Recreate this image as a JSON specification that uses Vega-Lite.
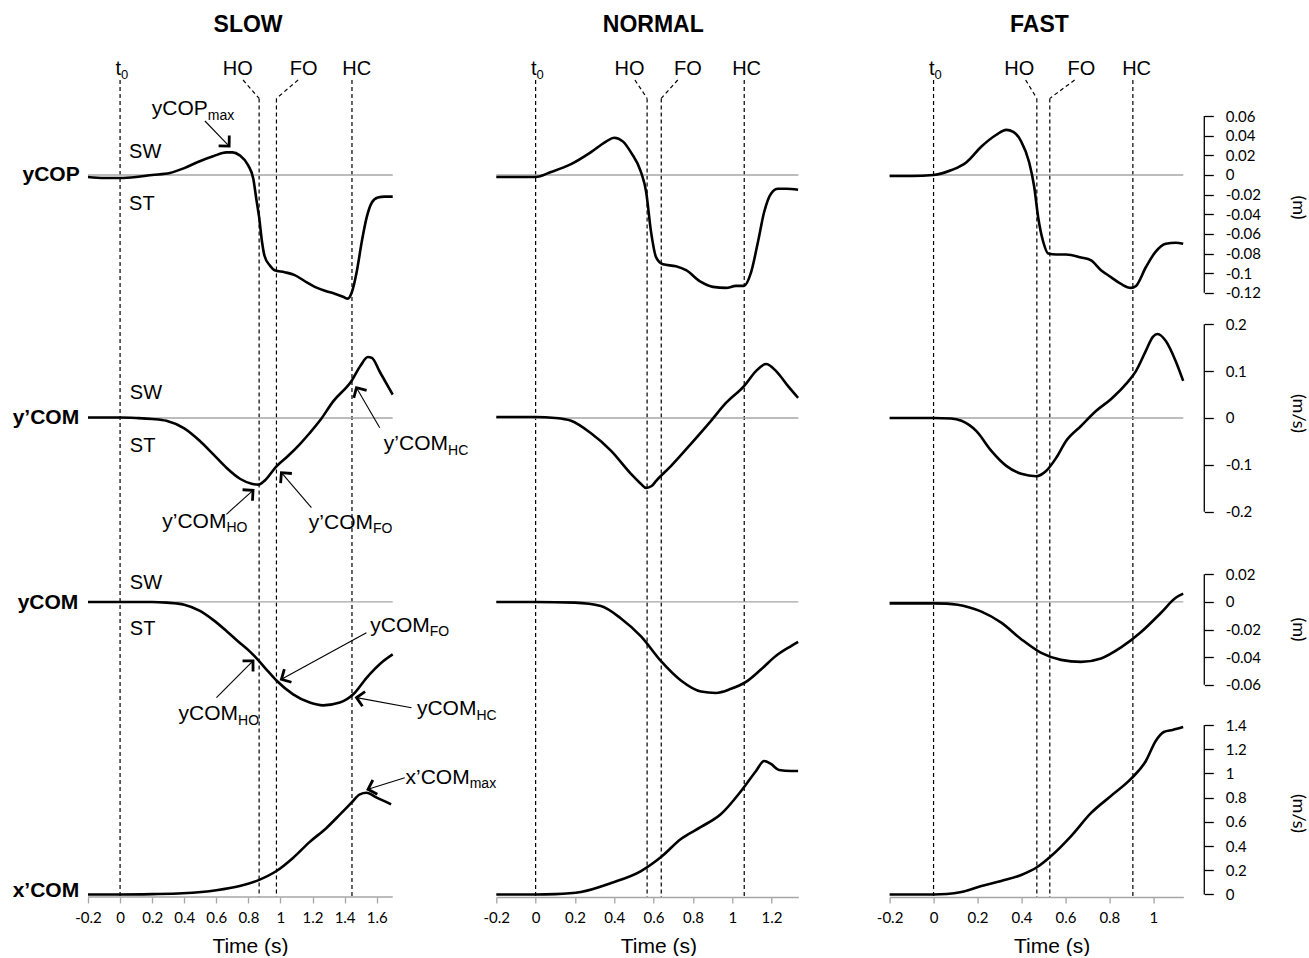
{
"$schema":"https://vega.github.io/schema/vega-lite/v6.json",
"background":"white",
"padding":{"left":12,"top":14,"right":5,"bottom":0},
"config":{"view":{"stroke":null},
 "title":{"font":"Liberation Sans","fontSize":23,"fontWeight":"bold","offset":14,"anchor":"middle","frame":"group","color":"black"},
 "line":{"color":"black","strokeWidth":2.6,"interpolate":"monotone"},
 "axisX":{"domainColor":"#a6a6a6","domainWidth":1.3,"tickColor":"#a6a6a6","tickWidth":1.3,"tickSize":6,"labelFont":"Lato","labelFontSize":15,"labelColor":"black","labelPadding":7,"titleFont":"Liberation Sans","titleFontSize":21,"titleFontWeight":"normal","titleColor":"black","titleX":162,"titleY":55,"titleBaseline":"alphabetic","grid":false,"labelFlush":false,"labelOverlap":false}
},
"datasets":{
"traces":[
{"speed":"SLOW","sig":"yCOP","t":-0.2,"v":-0.002},{"speed":"SLOW","sig":"yCOP","t":-0.1,"v":-0.003},{"speed":"SLOW","sig":"yCOP","t":0,"v":-0.003},{"speed":"SLOW","sig":"yCOP","t":0.1,"v":-0.002},{"speed":"SLOW","sig":"yCOP","t":0.2,"v":0},{"speed":"SLOW","sig":"yCOP","t":0.31,"v":0.002},{"speed":"SLOW","sig":"yCOP","t":0.4,"v":0.007},{"speed":"SLOW","sig":"yCOP","t":0.497,"v":0.014},{"speed":"SLOW","sig":"yCOP","t":0.58,"v":0.019},{"speed":"SLOW","sig":"yCOP","t":0.663,"v":0.023},{"speed":"SLOW","sig":"yCOP","t":0.7,"v":0.023},{"speed":"SLOW","sig":"yCOP","t":0.746,"v":0.02},{"speed":"SLOW","sig":"yCOP","t":0.798,"v":0.01},{"speed":"SLOW","sig":"yCOP","t":0.831,"v":-0.004},{"speed":"SLOW","sig":"yCOP","t":0.85,"v":-0.025},{"speed":"SLOW","sig":"yCOP","t":0.867,"v":-0.043},{"speed":"SLOW","sig":"yCOP","t":0.885,"v":-0.068},{"speed":"SLOW","sig":"yCOP","t":0.9,"v":-0.082},{"speed":"SLOW","sig":"yCOP","t":0.933,"v":-0.092},{"speed":"SLOW","sig":"yCOP","t":0.964,"v":-0.097},{"speed":"SLOW","sig":"yCOP","t":1.026,"v":-0.099},{"speed":"SLOW","sig":"yCOP","t":1.089,"v":-0.102},{"speed":"SLOW","sig":"yCOP","t":1.15,"v":-0.108},{"speed":"SLOW","sig":"yCOP","t":1.214,"v":-0.114},{"speed":"SLOW","sig":"yCOP","t":1.277,"v":-0.118},{"speed":"SLOW","sig":"yCOP","t":1.339,"v":-0.121},{"speed":"SLOW","sig":"yCOP","t":1.39,"v":-0.124},{"speed":"SLOW","sig":"yCOP","t":1.42,"v":-0.126},{"speed":"SLOW","sig":"yCOP","t":1.446,"v":-0.119},{"speed":"SLOW","sig":"yCOP","t":1.475,"v":-0.099},{"speed":"SLOW","sig":"yCOP","t":1.507,"v":-0.068},{"speed":"SLOW","sig":"yCOP","t":1.538,"v":-0.043},{"speed":"SLOW","sig":"yCOP","t":1.57,"v":-0.028},{"speed":"SLOW","sig":"yCOP","t":1.607,"v":-0.023},{"speed":"SLOW","sig":"yCOP","t":1.65,"v":-0.022},{"speed":"SLOW","sig":"yCOP","t":1.7,"v":-0.022},
{"speed":"NORMAL","sig":"yCOP","t":-0.2,"v":-0.002},{"speed":"NORMAL","sig":"yCOP","t":-0.1,"v":-0.002},{"speed":"NORMAL","sig":"yCOP","t":0,"v":-0.002},{"speed":"NORMAL","sig":"yCOP","t":0.078,"v":0.003},{"speed":"NORMAL","sig":"yCOP","t":0.18,"v":0.011},{"speed":"NORMAL","sig":"yCOP","t":0.28,"v":0.023},{"speed":"NORMAL","sig":"yCOP","t":0.358,"v":0.034},{"speed":"NORMAL","sig":"yCOP","t":0.399,"v":0.038},{"speed":"NORMAL","sig":"yCOP","t":0.445,"v":0.034},{"speed":"NORMAL","sig":"yCOP","t":0.485,"v":0.023},{"speed":"NORMAL","sig":"yCOP","t":0.536,"v":0.003},{"speed":"NORMAL","sig":"yCOP","t":0.562,"v":-0.017},{"speed":"NORMAL","sig":"yCOP","t":0.587,"v":-0.058},{"speed":"NORMAL","sig":"yCOP","t":0.613,"v":-0.084},{"speed":"NORMAL","sig":"yCOP","t":0.648,"v":-0.091},{"speed":"NORMAL","sig":"yCOP","t":0.714,"v":-0.093},{"speed":"NORMAL","sig":"yCOP","t":0.765,"v":-0.097},{"speed":"NORMAL","sig":"yCOP","t":0.841,"v":-0.109},{"speed":"NORMAL","sig":"yCOP","t":0.902,"v":-0.114},{"speed":"NORMAL","sig":"yCOP","t":0.968,"v":-0.115},{"speed":"NORMAL","sig":"yCOP","t":1.019,"v":-0.113},{"speed":"NORMAL","sig":"yCOP","t":1.06,"v":-0.113},{"speed":"NORMAL","sig":"yCOP","t":1.096,"v":-0.099},{"speed":"NORMAL","sig":"yCOP","t":1.131,"v":-0.068},{"speed":"NORMAL","sig":"yCOP","t":1.162,"v":-0.038},{"speed":"NORMAL","sig":"yCOP","t":1.197,"v":-0.019},{"speed":"NORMAL","sig":"yCOP","t":1.233,"v":-0.014},{"speed":"NORMAL","sig":"yCOP","t":1.274,"v":-0.014},{"speed":"NORMAL","sig":"yCOP","t":1.335,"v":-0.015},
{"speed":"FAST","sig":"yCOP","t":-0.2,"v":-0.001},{"speed":"FAST","sig":"yCOP","t":-0.1,"v":-0.001},{"speed":"FAST","sig":"yCOP","t":0,"v":0},{"speed":"FAST","sig":"yCOP","t":0.082,"v":0.005},{"speed":"FAST","sig":"yCOP","t":0.15,"v":0.013},{"speed":"FAST","sig":"yCOP","t":0.218,"v":0.029},{"speed":"FAST","sig":"yCOP","t":0.286,"v":0.041},{"speed":"FAST","sig":"yCOP","t":0.331,"v":0.046},{"speed":"FAST","sig":"yCOP","t":0.363,"v":0.044},{"speed":"FAST","sig":"yCOP","t":0.399,"v":0.034},{"speed":"FAST","sig":"yCOP","t":0.435,"v":0.013},{"speed":"FAST","sig":"yCOP","t":0.458,"v":-0.012},{"speed":"FAST","sig":"yCOP","t":0.476,"v":-0.043},{"speed":"FAST","sig":"yCOP","t":0.499,"v":-0.068},{"speed":"FAST","sig":"yCOP","t":0.522,"v":-0.08},{"speed":"FAST","sig":"yCOP","t":0.558,"v":-0.081},{"speed":"FAST","sig":"yCOP","t":0.603,"v":-0.081},{"speed":"FAST","sig":"yCOP","t":0.671,"v":-0.084},{"speed":"FAST","sig":"yCOP","t":0.717,"v":-0.087},{"speed":"FAST","sig":"yCOP","t":0.762,"v":-0.097},{"speed":"FAST","sig":"yCOP","t":0.807,"v":-0.104},{"speed":"FAST","sig":"yCOP","t":0.853,"v":-0.111},{"speed":"FAST","sig":"yCOP","t":0.898,"v":-0.115},{"speed":"FAST","sig":"yCOP","t":0.921,"v":-0.113},{"speed":"FAST","sig":"yCOP","t":0.966,"v":-0.094},{"speed":"FAST","sig":"yCOP","t":1.011,"v":-0.078},{"speed":"FAST","sig":"yCOP","t":1.057,"v":-0.07},{"speed":"FAST","sig":"yCOP","t":1.102,"v":-0.069},{"speed":"FAST","sig":"yCOP","t":1.136,"v":-0.07},
{"speed":"SLOW","sig":"yVel","t":-0.2,"v":0.001},{"speed":"SLOW","sig":"yVel","t":0,"v":0.001},{"speed":"SLOW","sig":"yVel","t":0.1,"v":0},{"speed":"SLOW","sig":"yVel","t":0.2,"v":-0.002},{"speed":"SLOW","sig":"yVel","t":0.289,"v":-0.006},{"speed":"SLOW","sig":"yVel","t":0.4,"v":-0.022},{"speed":"SLOW","sig":"yVel","t":0.498,"v":-0.049},{"speed":"SLOW","sig":"yVel","t":0.58,"v":-0.077},{"speed":"SLOW","sig":"yVel","t":0.663,"v":-0.106},{"speed":"SLOW","sig":"yVel","t":0.75,"v":-0.13},{"speed":"SLOW","sig":"yVel","t":0.82,"v":-0.14},{"speed":"SLOW","sig":"yVel","t":0.862,"v":-0.142},{"speed":"SLOW","sig":"yVel","t":0.9,"v":-0.134},{"speed":"SLOW","sig":"yVel","t":0.975,"v":-0.103},{"speed":"SLOW","sig":"yVel","t":1.05,"v":-0.08},{"speed":"SLOW","sig":"yVel","t":1.12,"v":-0.056},{"speed":"SLOW","sig":"yVel","t":1.18,"v":-0.033},{"speed":"SLOW","sig":"yVel","t":1.245,"v":-0.006},{"speed":"SLOW","sig":"yVel","t":1.33,"v":0.036},{"speed":"SLOW","sig":"yVel","t":1.443,"v":0.079},{"speed":"SLOW","sig":"yVel","t":1.5,"v":0.112},{"speed":"SLOW","sig":"yVel","t":1.545,"v":0.13},{"speed":"SLOW","sig":"yVel","t":1.57,"v":0.128},{"speed":"SLOW","sig":"yVel","t":1.62,"v":0.098},{"speed":"SLOW","sig":"yVel","t":1.7,"v":0.05},
{"speed":"NORMAL","sig":"yVel","t":-0.2,"v":0.002},{"speed":"NORMAL","sig":"yVel","t":0,"v":0.002},{"speed":"NORMAL","sig":"yVel","t":0.1,"v":0},{"speed":"NORMAL","sig":"yVel","t":0.18,"v":-0.006},{"speed":"NORMAL","sig":"yVel","t":0.28,"v":-0.032},{"speed":"NORMAL","sig":"yVel","t":0.384,"v":-0.07},{"speed":"NORMAL","sig":"yVel","t":0.485,"v":-0.119},{"speed":"NORMAL","sig":"yVel","t":0.535,"v":-0.14},{"speed":"NORMAL","sig":"yVel","t":0.562,"v":-0.149},{"speed":"NORMAL","sig":"yVel","t":0.59,"v":-0.145},{"speed":"NORMAL","sig":"yVel","t":0.613,"v":-0.134},{"speed":"NORMAL","sig":"yVel","t":0.689,"v":-0.102},{"speed":"NORMAL","sig":"yVel","t":0.79,"v":-0.055},{"speed":"NORMAL","sig":"yVel","t":0.892,"v":-0.006},{"speed":"NORMAL","sig":"yVel","t":0.968,"v":0.032},{"speed":"NORMAL","sig":"yVel","t":1.06,"v":0.068},{"speed":"NORMAL","sig":"yVel","t":1.121,"v":0.1},{"speed":"NORMAL","sig":"yVel","t":1.172,"v":0.115},{"speed":"NORMAL","sig":"yVel","t":1.223,"v":0.1},{"speed":"NORMAL","sig":"yVel","t":1.284,"v":0.068},{"speed":"NORMAL","sig":"yVel","t":1.335,"v":0.043},
{"speed":"FAST","sig":"yVel","t":-0.2,"v":0},{"speed":"FAST","sig":"yVel","t":0,"v":0},{"speed":"FAST","sig":"yVel","t":0.08,"v":-0.001},{"speed":"FAST","sig":"yVel","t":0.127,"v":-0.006},{"speed":"FAST","sig":"yVel","t":0.195,"v":-0.028},{"speed":"FAST","sig":"yVel","t":0.263,"v":-0.07},{"speed":"FAST","sig":"yVel","t":0.331,"v":-0.102},{"speed":"FAST","sig":"yVel","t":0.399,"v":-0.119},{"speed":"FAST","sig":"yVel","t":0.467,"v":-0.124},{"speed":"FAST","sig":"yVel","t":0.512,"v":-0.113},{"speed":"FAST","sig":"yVel","t":0.558,"v":-0.085},{"speed":"FAST","sig":"yVel","t":0.603,"v":-0.049},{"speed":"FAST","sig":"yVel","t":0.671,"v":-0.017},{"speed":"FAST","sig":"yVel","t":0.739,"v":0.015},{"speed":"FAST","sig":"yVel","t":0.807,"v":0.04},{"speed":"FAST","sig":"yVel","t":0.875,"v":0.072},{"speed":"FAST","sig":"yVel","t":0.921,"v":0.1},{"speed":"FAST","sig":"yVel","t":0.966,"v":0.143},{"speed":"FAST","sig":"yVel","t":0.998,"v":0.173},{"speed":"FAST","sig":"yVel","t":1.02,"v":0.179},{"speed":"FAST","sig":"yVel","t":1.057,"v":0.164},{"speed":"FAST","sig":"yVel","t":1.102,"v":0.121},{"speed":"FAST","sig":"yVel","t":1.136,"v":0.079},
{"speed":"SLOW","sig":"yCOM","t":-0.2,"v":0},{"speed":"SLOW","sig":"yCOM","t":0,"v":0},{"speed":"SLOW","sig":"yCOM","t":0.2,"v":0},{"speed":"SLOW","sig":"yCOM","t":0.29,"v":-0.0005},{"speed":"SLOW","sig":"yCOM","t":0.4,"v":-0.002},{"speed":"SLOW","sig":"yCOM","t":0.498,"v":-0.0065},{"speed":"SLOW","sig":"yCOM","t":0.58,"v":-0.013},{"speed":"SLOW","sig":"yCOM","t":0.663,"v":-0.021},{"speed":"SLOW","sig":"yCOM","t":0.74,"v":-0.029},{"speed":"SLOW","sig":"yCOM","t":0.81,"v":-0.036},{"speed":"SLOW","sig":"yCOM","t":0.86,"v":-0.042},{"speed":"SLOW","sig":"yCOM","t":0.92,"v":-0.05},{"speed":"SLOW","sig":"yCOM","t":0.975,"v":-0.057},{"speed":"SLOW","sig":"yCOM","t":1.079,"v":-0.067},{"speed":"SLOW","sig":"yCOM","t":1.183,"v":-0.073},{"speed":"SLOW","sig":"yCOM","t":1.266,"v":-0.075},{"speed":"SLOW","sig":"yCOM","t":1.37,"v":-0.073},{"speed":"SLOW","sig":"yCOM","t":1.454,"v":-0.067},{"speed":"SLOW","sig":"yCOM","t":1.537,"v":-0.055},{"speed":"SLOW","sig":"yCOM","t":1.64,"v":-0.043},{"speed":"SLOW","sig":"yCOM","t":1.7,"v":-0.038},
{"speed":"NORMAL","sig":"yCOM","t":-0.2,"v":0},{"speed":"NORMAL","sig":"yCOM","t":0,"v":0},{"speed":"NORMAL","sig":"yCOM","t":0.2,"v":-0.0005},{"speed":"NORMAL","sig":"yCOM","t":0.332,"v":-0.003},{"speed":"NORMAL","sig":"yCOM","t":0.434,"v":-0.012},{"speed":"NORMAL","sig":"yCOM","t":0.536,"v":-0.025},{"speed":"NORMAL","sig":"yCOM","t":0.638,"v":-0.043},{"speed":"NORMAL","sig":"yCOM","t":0.739,"v":-0.057},{"speed":"NORMAL","sig":"yCOM","t":0.841,"v":-0.065},{"speed":"NORMAL","sig":"yCOM","t":0.917,"v":-0.066},{"speed":"NORMAL","sig":"yCOM","t":0.994,"v":-0.063},{"speed":"NORMAL","sig":"yCOM","t":1.07,"v":-0.058},{"speed":"NORMAL","sig":"yCOM","t":1.146,"v":-0.049},{"speed":"NORMAL","sig":"yCOM","t":1.223,"v":-0.039},{"speed":"NORMAL","sig":"yCOM","t":1.299,"v":-0.032},{"speed":"NORMAL","sig":"yCOM","t":1.335,"v":-0.029},
{"speed":"FAST","sig":"yCOM","t":-0.2,"v":-0.001},{"speed":"FAST","sig":"yCOM","t":0,"v":-0.001},{"speed":"FAST","sig":"yCOM","t":0.06,"v":-0.0012},{"speed":"FAST","sig":"yCOM","t":0.11,"v":-0.002},{"speed":"FAST","sig":"yCOM","t":0.16,"v":-0.0038},{"speed":"FAST","sig":"yCOM","t":0.218,"v":-0.007},{"speed":"FAST","sig":"yCOM","t":0.308,"v":-0.015},{"speed":"FAST","sig":"yCOM","t":0.399,"v":-0.027},{"speed":"FAST","sig":"yCOM","t":0.49,"v":-0.037},{"speed":"FAST","sig":"yCOM","t":0.58,"v":-0.042},{"speed":"FAST","sig":"yCOM","t":0.671,"v":-0.0435},{"speed":"FAST","sig":"yCOM","t":0.762,"v":-0.041},{"speed":"FAST","sig":"yCOM","t":0.853,"v":-0.033},{"speed":"FAST","sig":"yCOM","t":0.943,"v":-0.022},{"speed":"FAST","sig":"yCOM","t":1.034,"v":-0.008},{"speed":"FAST","sig":"yCOM","t":1.102,"v":0.003},{"speed":"FAST","sig":"yCOM","t":1.136,"v":0.006},
{"speed":"SLOW","sig":"xVel","t":-0.2,"v":0},{"speed":"SLOW","sig":"xVel","t":0,"v":0},{"speed":"SLOW","sig":"xVel","t":0.2,"v":0.003},{"speed":"SLOW","sig":"xVel","t":0.39,"v":0.01},{"speed":"SLOW","sig":"xVel","t":0.6,"v":0.035},{"speed":"SLOW","sig":"xVel","t":0.746,"v":0.07},{"speed":"SLOW","sig":"xVel","t":0.86,"v":0.117},{"speed":"SLOW","sig":"xVel","t":0.975,"v":0.194},{"speed":"SLOW","sig":"xVel","t":1.08,"v":0.304},{"speed":"SLOW","sig":"xVel","t":1.183,"v":0.435},{"speed":"SLOW","sig":"xVel","t":1.287,"v":0.55},{"speed":"SLOW","sig":"xVel","t":1.37,"v":0.66},{"speed":"SLOW","sig":"xVel","t":1.443,"v":0.759},{"speed":"SLOW","sig":"xVel","t":1.495,"v":0.828},{"speed":"SLOW","sig":"xVel","t":1.537,"v":0.841},{"speed":"SLOW","sig":"xVel","t":1.6,"v":0.8},{"speed":"SLOW","sig":"xVel","t":1.69,"v":0.745},
{"speed":"NORMAL","sig":"xVel","t":-0.2,"v":0},{"speed":"NORMAL","sig":"xVel","t":0,"v":0},{"speed":"NORMAL","sig":"xVel","t":0.1,"v":0.003},{"speed":"NORMAL","sig":"xVel","t":0.23,"v":0.021},{"speed":"NORMAL","sig":"xVel","t":0.384,"v":0.095},{"speed":"NORMAL","sig":"xVel","t":0.536,"v":0.194},{"speed":"NORMAL","sig":"xVel","t":0.638,"v":0.31},{"speed":"NORMAL","sig":"xVel","t":0.739,"v":0.459},{"speed":"NORMAL","sig":"xVel","t":0.841,"v":0.558},{"speed":"NORMAL","sig":"xVel","t":0.943,"v":0.665},{"speed":"NORMAL","sig":"xVel","t":1.045,"v":0.855},{"speed":"NORMAL","sig":"xVel","t":1.121,"v":1.021},{"speed":"NORMAL","sig":"xVel","t":1.162,"v":1.103},{"speed":"NORMAL","sig":"xVel","t":1.197,"v":1.079},{"speed":"NORMAL","sig":"xVel","t":1.238,"v":1.029},{"speed":"NORMAL","sig":"xVel","t":1.299,"v":1.021},{"speed":"NORMAL","sig":"xVel","t":1.335,"v":1.021},
{"speed":"FAST","sig":"xVel","t":-0.2,"v":0},{"speed":"FAST","sig":"xVel","t":0,"v":0},{"speed":"FAST","sig":"xVel","t":0.06,"v":0.004},{"speed":"FAST","sig":"xVel","t":0.127,"v":0.021},{"speed":"FAST","sig":"xVel","t":0.218,"v":0.07},{"speed":"FAST","sig":"xVel","t":0.308,"v":0.112},{"speed":"FAST","sig":"xVel","t":0.399,"v":0.161},{"speed":"FAST","sig":"xVel","t":0.472,"v":0.227},{"speed":"FAST","sig":"xVel","t":0.535,"v":0.318},{"speed":"FAST","sig":"xVel","t":0.626,"v":0.483},{"speed":"FAST","sig":"xVel","t":0.717,"v":0.674},{"speed":"FAST","sig":"xVel","t":0.807,"v":0.814},{"speed":"FAST","sig":"xVel","t":0.898,"v":0.955},{"speed":"FAST","sig":"xVel","t":0.966,"v":1.103},{"speed":"FAST","sig":"xVel","t":1.011,"v":1.269},{"speed":"FAST","sig":"xVel","t":1.048,"v":1.343},{"speed":"FAST","sig":"xVel","t":1.088,"v":1.36},{"speed":"FAST","sig":"xVel","t":1.136,"v":1.384}
],
"events":[
{"speed":"SLOW","event":"t0","t":0},{"speed":"SLOW","event":"HO","t":0.867},{"speed":"SLOW","event":"FO","t":0.975},{"speed":"SLOW","event":"HC","t":1.446},
{"speed":"NORMAL","event":"t0","t":0},{"speed":"NORMAL","event":"HO","t":0.567},{"speed":"NORMAL","event":"FO","t":0.639},{"speed":"NORMAL","event":"HC","t":1.061},
{"speed":"FAST","event":"t0","t":0},{"speed":"FAST","event":"HO","t":0.47},{"speed":"FAST","event":"FO","t":0.529},{"speed":"FAST","event":"HC","t":0.907}
],
"eventLabels":[
{"speed":"SLOW","label":"t","sub":"0","t":0},{"speed":"SLOW","label":"HO","sub":"","t":0.734},{"speed":"SLOW","label":"FO","sub":"","t":1.145},{"speed":"SLOW","label":"HC","sub":"","t":1.475},
{"speed":"NORMAL","label":"t","sub":"0","t":0},{"speed":"NORMAL","label":"HO","sub":"","t":0.478},{"speed":"NORMAL","label":"FO","sub":"","t":0.775},{"speed":"NORMAL","label":"HC","sub":"","t":1.073},
{"speed":"FAST","label":"t","sub":"0","t":0},{"speed":"FAST","label":"HO","sub":"","t":0.39},{"speed":"FAST","label":"FO","sub":"","t":0.673},{"speed":"FAST","label":"HC","sub":"","t":0.924}
],
"connectors":[
{"speed":"SLOW","event":"HO","t_label":0.767,"t_event":0.867},{"speed":"SLOW","event":"FO","t_label":1.11,"t_event":0.975},
{"speed":"NORMAL","event":"HO","t_label":0.505,"t_event":0.567},{"speed":"NORMAL","event":"FO","t_label":0.723,"t_event":0.639},
{"speed":"FAST","event":"HO","t_label":0.419,"t_event":0.47},{"speed":"FAST","event":"FO","t_label":0.642,"t_event":0.529}
],
"notes":[
{"sig":"yCOP","main":"yCOP","sub":"max","t":0.547,"v":0.0606},
{"sig":"yVel","main":"y’COM","sub":"HO","t":0.663,"v":-0.2344},
{"sig":"yVel","main":"y’COM","sub":"FO","t":1.577,"v":-0.2355},
{"sig":"yVel","main":"y’COM","sub":"HC","t":2.045,"v":-0.0686},
{"sig":"yCOM","main":"yCOM","sub":"HO","t":0.736,"v":-0.0857},
{"sig":"yCOM","main":"yCOM","sub":"FO","t":1.931,"v":-0.0216},
{"sig":"yCOM","main":"yCOM","sub":"HC","t":2.222,"v":-0.0821},
{"sig":"xVel","main":"x’COM","sub":"max","t":2.18,"v":0.917}
],
"arrows":[
{"sig":"yCOP","t":0.529,"v":0.055,"t2":0.68,"v2":0.0295,"angle":45.8},
{"sig":"yVel","t":0.663,"v":-0.2052,"t2":0.829,"v2":-0.1541,"angle":-42},
{"sig":"yVel","t":1.193,"v":-0.1912,"t2":1.006,"v2":-0.1166,"angle":-130.6},
{"sig":"yVel","t":1.619,"v":-0.0207,"t2":1.474,"v2":0.0646,"angle":-120.2},
{"sig":"yCOM","t":0.601,"v":-0.0694,"t2":0.829,"v2":-0.0428,"angle":-45},
{"sig":"yCOM","t":1.536,"v":-0.0223,"t2":1.006,"v2":-0.0561,"angle":151.3},
{"sig":"yCOM","t":1.817,"v":-0.0767,"t2":1.474,"v2":-0.0694,"angle":-169.7},
{"sig":"xVel","t":1.775,"v":0.9653,"t2":1.546,"v2":0.8694,"angle":162.5}
],
"swst":[
{"sig":"yCOP","label":"SW","t":0.056,"v":0.0236},{"sig":"yCOP","label":"ST","t":0.056,"v":-0.0295},
{"sig":"yVel","label":"SW","t":0.061,"v":0.0539},{"sig":"yVel","label":"ST","t":0.061,"v":-0.0597},
{"sig":"yCOM","label":"SW","t":0.061,"v":0.0134},{"sig":"yCOM","label":"ST","t":0.061,"v":-0.0194}
],
"rowLabels":[
{"sig":"yCOP","label":"yCOP","t":-0.252,"v":0},
{"sig":"yVel","label":"y’COM","t":-0.255,"v":0},
{"sig":"yCOM","label":"yCOM","t":-0.26,"v":-0.001},
{"sig":"xVel","label":"x’COM","t":-0.255,"v":0.029}
]
},
"bounds":"flush",
"spacing":91.3,
"hconcat":[
{"width":316.1,"height":846,"title":{"text":"SLOW","dx":2},
 "resolve":{"scale":{"y":"independent"}},
 "layer":[
  {"layer":[
   {"data":{"name":"events"},"transform":[{"filter":"datum.speed==='SLOW' && (datum.event==='t0' || datum.event==='HC')"}],"mark":{"type":"rule","color":"black","strokeWidth":1.2,"strokeDash":[4,3]},"encoding":{"x":{"field":"t","type":"quantitative","scale":{"domain":[-0.2,1.771],"nice":false,"zero":false}},"y":{"datum":0.9657,"type":"quantitative","scale":{"domain":[0,1],"nice":false,"zero":false},"axis":null},"y2":{"datum":0}}},
   {"data":{"name":"events"},"transform":[{"filter":"datum.speed==='SLOW' && (datum.event==='HO' || datum.event==='FO')"}],"mark":{"type":"rule","color":"black","strokeWidth":1.2,"strokeDash":[4,3]},"encoding":{"x":{"field":"t","type":"quantitative"},"y":{"datum":0.944,"type":"quantitative","axis":null},"y2":{"datum":0}}},
   {"data":{"name":"connectors"},"transform":[{"filter":"datum.speed==='SLOW'"}],"mark":{"type":"rule","color":"black","strokeWidth":1.2,"strokeDash":[4,3]},"encoding":{"x":{"field":"t_label","type":"quantitative"},"x2":{"field":"t_event"},"y":{"datum":0.9657,"type":"quantitative","axis":null},"y2":{"datum":0.944}}},
   {"data":{"name":"eventLabels"},"transform":[{"filter":"datum.speed==='SLOW' && datum.sub===''"}],"mark":{"type":"text","font":"Liberation Sans","fontSize":20,"align":"center","baseline":"alphabetic","color":"black"},"encoding":{"x":{"field":"t","type":"quantitative"},"y":{"datum":0.9716,"type":"quantitative","axis":null},"text":{"field":"label"}}},
   {"data":{"name":"eventLabels"},"transform":[{"filter":"datum.speed==='SLOW' && datum.sub!==''"}],"mark":{"type":"text","font":"Liberation Sans","fontSize":20,"align":"right","dx":1,"baseline":"alphabetic","color":"black"},"encoding":{"x":{"field":"t","type":"quantitative"},"y":{"datum":0.9716,"type":"quantitative","axis":null},"text":{"field":"label"}}},
   {"data":{"name":"eventLabels"},"transform":[{"filter":"datum.speed==='SLOW' && datum.sub!==''"}],"mark":{"type":"text","font":"Liberation Sans","fontSize":13,"align":"left","dx":1,"dy":4,"baseline":"alphabetic","color":"black"},"encoding":{"x":{"field":"t","type":"quantitative"},"y":{"datum":0.9716,"type":"quantitative","axis":null},"text":{"field":"sub"}}}
  ]},
  {"layer":[
   {"data":{"values":[{}]},"mark":{"type":"rule","color":"#a6a6a6","strokeWidth":1.3},"encoding":{"x":{"datum":-0.2,"type":"quantitative"},"x2":{"datum":1.7},"y":{"datum":0,"type":"quantitative","scale":{"domain":[-0.7355,0.1263],"nice":false,"zero":false},"axis":null}}},
   {"data":{"name":"traces"},"transform":[{"filter":"datum.speed==='SLOW' && datum.sig==='yCOP'"}],"mark":{"type":"line"},"encoding":{"x":{"field":"t","type":"quantitative","axis":{"title":"Time (s)","domain":false,"labelExpr":"(datum.value < 0 ? '-' : '') + format(abs(datum.value), '~g')"}},"y":{"field":"v","type":"quantitative","axis":null}}},
   {"data":{"name":"notes"},"transform":[{"filter":"datum.sig==='yCOP'"}],"mark":{"type":"text","font":"Liberation Sans","fontSize":21,"align":"right","baseline":"alphabetic","color":"black"},"encoding":{"x":{"field":"t","type":"quantitative"},"y":{"field":"v","type":"quantitative","axis":null},"text":{"field":"main"}}},
   {"data":{"name":"notes"},"transform":[{"filter":"datum.sig==='yCOP'"}],"mark":{"type":"text","font":"Liberation Sans","fontSize":14,"align":"left","dy":4.5,"baseline":"alphabetic","color":"black"},"encoding":{"x":{"field":"t","type":"quantitative"},"y":{"field":"v","type":"quantitative","axis":null},"text":{"field":"sub"}}},
   {"data":{"name":"swst"},"transform":[{"filter":"datum.sig==='yCOP'"}],"mark":{"type":"text","font":"Liberation Sans","fontSize":20,"align":"left","baseline":"middle","color":"black"},"encoding":{"x":{"field":"t","type":"quantitative"},"y":{"field":"v","type":"quantitative","axis":null},"text":{"field":"label"}}},
   {"data":{"name":"arrows"},"transform":[{"filter":"datum.sig==='yCOP'"}],"mark":{"type":"rule","color":"black","strokeWidth":1.1},"encoding":{"x":{"field":"t","type":"quantitative"},"y":{"field":"v","type":"quantitative","axis":null},"x2":{"field":"t2"},"y2":{"field":"v2"}}},
   {"data":{"name":"arrows"},"transform":[{"filter":"datum.sig==='yCOP'"}],"mark":{"type":"point","shape":"M-1,-1L0,0L-1,1","filled":false,"stroke":"black","strokeWidth":2.8,"size":220,"opacity":1,"strokeJoin":"miter"},"encoding":{"x":{"field":"t2","type":"quantitative"},"y":{"field":"v2","type":"quantitative","axis":null},"angle":{"field":"angle","type":"quantitative","scale":null}}},
   {"data":{"name":"rowLabels"},"transform":[{"filter":"datum.sig==='yCOP'"}],"mark":{"type":"text","font":"Liberation Sans","fontSize":21,"fontWeight":"bold","align":"right","baseline":"middle","color":"black"},"encoding":{"x":{"field":"t","type":"quantitative"},"y":{"field":"v","type":"quantitative","axis":null},"text":{"field":"label"}}}
  ]},
  {"layer":[
   {"data":{"values":[{}]},"mark":{"type":"rule","color":"#a6a6a6","strokeWidth":1.3},"encoding":{"x":{"datum":-0.2,"type":"quantitative"},"x2":{"datum":1.7},"y":{"datum":0,"type":"quantitative","scale":{"domain":[-1.0208,0.7821],"nice":false,"zero":false},"axis":null}}},
   {"data":{"name":"traces"},"transform":[{"filter":"datum.speed==='SLOW' && datum.sig==='yVel'"}],"mark":{"type":"line"},"encoding":{"x":{"field":"t","type":"quantitative","axis":{"title":"Time (s)","domain":false,"labelExpr":"(datum.value < 0 ? '-' : '') + format(abs(datum.value), '~g')"}},"y":{"field":"v","type":"quantitative","axis":null}}},
   {"data":{"name":"notes"},"transform":[{"filter":"datum.sig==='yVel'"}],"mark":{"type":"text","font":"Liberation Sans","fontSize":21,"align":"right","baseline":"alphabetic","color":"black"},"encoding":{"x":{"field":"t","type":"quantitative"},"y":{"field":"v","type":"quantitative","axis":null},"text":{"field":"main"}}},
   {"data":{"name":"notes"},"transform":[{"filter":"datum.sig==='yVel'"}],"mark":{"type":"text","font":"Liberation Sans","fontSize":14,"align":"left","dy":4.5,"baseline":"alphabetic","color":"black"},"encoding":{"x":{"field":"t","type":"quantitative"},"y":{"field":"v","type":"quantitative","axis":null},"text":{"field":"sub"}}},
   {"data":{"name":"swst"},"transform":[{"filter":"datum.sig==='yVel'"}],"mark":{"type":"text","font":"Liberation Sans","fontSize":20,"align":"left","baseline":"middle","color":"black"},"encoding":{"x":{"field":"t","type":"quantitative"},"y":{"field":"v","type":"quantitative","axis":null},"text":{"field":"label"}}},
   {"data":{"name":"arrows"},"transform":[{"filter":"datum.sig==='yVel'"}],"mark":{"type":"rule","color":"black","strokeWidth":1.1},"encoding":{"x":{"field":"t","type":"quantitative"},"y":{"field":"v","type":"quantitative","axis":null},"x2":{"field":"t2"},"y2":{"field":"v2"}}},
   {"data":{"name":"arrows"},"transform":[{"filter":"datum.sig==='yVel'"}],"mark":{"type":"point","shape":"M-1,-1L0,0L-1,1","filled":false,"stroke":"black","strokeWidth":2.8,"size":220,"opacity":1,"strokeJoin":"miter"},"encoding":{"x":{"field":"t2","type":"quantitative"},"y":{"field":"v2","type":"quantitative","axis":null},"angle":{"field":"angle","type":"quantitative","scale":null}}},
   {"data":{"name":"rowLabels"},"transform":[{"filter":"datum.sig==='yVel'"}],"mark":{"type":"text","font":"Liberation Sans","fontSize":21,"fontWeight":"bold","align":"right","baseline":"middle","color":"black"},"encoding":{"x":{"field":"t","type":"quantitative"},"y":{"field":"v","type":"quantitative","axis":null},"text":{"field":"label"}}}
  ]},
  {"layer":[
   {"data":{"values":[{}]},"mark":{"type":"rule","color":"#a6a6a6","strokeWidth":1.3},"encoding":{"x":{"datum":-0.2,"type":"quantitative"},"x2":{"datum":1.7},"y":{"datum":0,"type":"quantitative","scale":{"domain":[-0.214,0.3996],"nice":false,"zero":false},"axis":null}}},
   {"data":{"name":"traces"},"transform":[{"filter":"datum.speed==='SLOW' && datum.sig==='yCOM'"}],"mark":{"type":"line"},"encoding":{"x":{"field":"t","type":"quantitative","axis":{"title":"Time (s)","domain":false,"labelExpr":"(datum.value < 0 ? '-' : '') + format(abs(datum.value), '~g')"}},"y":{"field":"v","type":"quantitative","axis":null}}},
   {"data":{"name":"notes"},"transform":[{"filter":"datum.sig==='yCOM'"}],"mark":{"type":"text","font":"Liberation Sans","fontSize":21,"align":"right","baseline":"alphabetic","color":"black"},"encoding":{"x":{"field":"t","type":"quantitative"},"y":{"field":"v","type":"quantitative","axis":null},"text":{"field":"main"}}},
   {"data":{"name":"notes"},"transform":[{"filter":"datum.sig==='yCOM'"}],"mark":{"type":"text","font":"Liberation Sans","fontSize":14,"align":"left","dy":4.5,"baseline":"alphabetic","color":"black"},"encoding":{"x":{"field":"t","type":"quantitative"},"y":{"field":"v","type":"quantitative","axis":null},"text":{"field":"sub"}}},
   {"data":{"name":"swst"},"transform":[{"filter":"datum.sig==='yCOM'"}],"mark":{"type":"text","font":"Liberation Sans","fontSize":20,"align":"left","baseline":"middle","color":"black"},"encoding":{"x":{"field":"t","type":"quantitative"},"y":{"field":"v","type":"quantitative","axis":null},"text":{"field":"label"}}},
   {"data":{"name":"arrows"},"transform":[{"filter":"datum.sig==='yCOM'"}],"mark":{"type":"rule","color":"black","strokeWidth":1.1},"encoding":{"x":{"field":"t","type":"quantitative"},"y":{"field":"v","type":"quantitative","axis":null},"x2":{"field":"t2"},"y2":{"field":"v2"}}},
   {"data":{"name":"arrows"},"transform":[{"filter":"datum.sig==='yCOM'"}],"mark":{"type":"point","shape":"M-1,-1L0,0L-1,1","filled":false,"stroke":"black","strokeWidth":2.8,"size":220,"opacity":1,"strokeJoin":"miter"},"encoding":{"x":{"field":"t2","type":"quantitative"},"y":{"field":"v2","type":"quantitative","axis":null},"angle":{"field":"angle","type":"quantitative","scale":null}}},
   {"data":{"name":"rowLabels"},"transform":[{"filter":"datum.sig==='yCOM'"}],"mark":{"type":"text","font":"Liberation Sans","fontSize":21,"fontWeight":"bold","align":"right","baseline":"middle","color":"black"},"encoding":{"x":{"field":"t","type":"quantitative"},"y":{"field":"v","type":"quantitative","axis":null},"text":{"field":"label"}}}
  ]},
  {"layer":[
   {"data":{"values":[{}]},"mark":{"type":"rule","color":"#a6a6a6","strokeWidth":1.3},"encoding":{"x":{"datum":-0.2,"type":"quantitative"},"x2":{"datum":1.7},"y":{"datum":-0.0207,"type":"quantitative","scale":{"domain":[-0.0207,6.9711],"nice":false,"zero":false},"axis":null}}},
   {"data":{"name":"traces"},"transform":[{"filter":"datum.speed==='SLOW' && datum.sig==='xVel'"}],"mark":{"type":"line"},"encoding":{"x":{"field":"t","type":"quantitative","axis":{"title":"Time (s)","domain":false,"labelExpr":"(datum.value < 0 ? '-' : '') + format(abs(datum.value), '~g')"}},"y":{"field":"v","type":"quantitative","axis":null}}},
   {"data":{"name":"notes"},"transform":[{"filter":"datum.sig==='xVel'"}],"mark":{"type":"text","font":"Liberation Sans","fontSize":21,"align":"right","baseline":"alphabetic","color":"black"},"encoding":{"x":{"field":"t","type":"quantitative"},"y":{"field":"v","type":"quantitative","axis":null},"text":{"field":"main"}}},
   {"data":{"name":"notes"},"transform":[{"filter":"datum.sig==='xVel'"}],"mark":{"type":"text","font":"Liberation Sans","fontSize":14,"align":"left","dy":4.5,"baseline":"alphabetic","color":"black"},"encoding":{"x":{"field":"t","type":"quantitative"},"y":{"field":"v","type":"quantitative","axis":null},"text":{"field":"sub"}}},
   {"data":{"name":"arrows"},"transform":[{"filter":"datum.sig==='xVel'"}],"mark":{"type":"rule","color":"black","strokeWidth":1.1},"encoding":{"x":{"field":"t","type":"quantitative"},"y":{"field":"v","type":"quantitative","axis":null},"x2":{"field":"t2"},"y2":{"field":"v2"}}},
   {"data":{"name":"arrows"},"transform":[{"filter":"datum.sig==='xVel'"}],"mark":{"type":"point","shape":"M-1,-1L0,0L-1,1","filled":false,"stroke":"black","strokeWidth":2.8,"size":220,"opacity":1,"strokeJoin":"miter"},"encoding":{"x":{"field":"t2","type":"quantitative"},"y":{"field":"v2","type":"quantitative","axis":null},"angle":{"field":"angle","type":"quantitative","scale":null}}},
   {"data":{"name":"rowLabels"},"transform":[{"filter":"datum.sig==='xVel'"}],"mark":{"type":"text","font":"Liberation Sans","fontSize":21,"fontWeight":"bold","align":"right","baseline":"middle","color":"black"},"encoding":{"x":{"field":"t","type":"quantitative"},"y":{"field":"v","type":"quantitative","axis":null},"text":{"field":"label"}}}
  ]}
 ]},
{"width":302,"height":846,"title":{"text":"NORMAL","dx":6},
 "resolve":{"scale":{"y":"independent"}},
 "layer":[
  {"layer":[
   {"data":{"name":"events"},"transform":[{"filter":"datum.speed==='NORMAL' && (datum.event==='t0' || datum.event==='HC')"}],"mark":{"type":"rule","color":"black","strokeWidth":1.2,"strokeDash":[4,3]},"encoding":{"x":{"field":"t","type":"quantitative","scale":{"domain":[-0.2,1.336],"nice":false,"zero":false}},"y":{"datum":0.9657,"type":"quantitative","scale":{"domain":[0,1],"nice":false,"zero":false},"axis":null},"y2":{"datum":0}}},
   {"data":{"name":"events"},"transform":[{"filter":"datum.speed==='NORMAL' && (datum.event==='HO' || datum.event==='FO')"}],"mark":{"type":"rule","color":"black","strokeWidth":1.2,"strokeDash":[4,3]},"encoding":{"x":{"field":"t","type":"quantitative"},"y":{"datum":0.944,"type":"quantitative","axis":null},"y2":{"datum":0}}},
   {"data":{"name":"connectors"},"transform":[{"filter":"datum.speed==='NORMAL'"}],"mark":{"type":"rule","color":"black","strokeWidth":1.2,"strokeDash":[4,3]},"encoding":{"x":{"field":"t_label","type":"quantitative"},"x2":{"field":"t_event"},"y":{"datum":0.9657,"type":"quantitative","axis":null},"y2":{"datum":0.944}}},
   {"data":{"name":"eventLabels"},"transform":[{"filter":"datum.speed==='NORMAL' && datum.sub===''"}],"mark":{"type":"text","font":"Liberation Sans","fontSize":20,"align":"center","baseline":"alphabetic","color":"black"},"encoding":{"x":{"field":"t","type":"quantitative"},"y":{"datum":0.9716,"type":"quantitative","axis":null},"text":{"field":"label"}}},
   {"data":{"name":"eventLabels"},"transform":[{"filter":"datum.speed==='NORMAL' && datum.sub!==''"}],"mark":{"type":"text","font":"Liberation Sans","fontSize":20,"align":"right","dx":1,"baseline":"alphabetic","color":"black"},"encoding":{"x":{"field":"t","type":"quantitative"},"y":{"datum":0.9716,"type":"quantitative","axis":null},"text":{"field":"label"}}},
   {"data":{"name":"eventLabels"},"transform":[{"filter":"datum.speed==='NORMAL' && datum.sub!==''"}],"mark":{"type":"text","font":"Liberation Sans","fontSize":13,"align":"left","dx":1,"dy":4,"baseline":"alphabetic","color":"black"},"encoding":{"x":{"field":"t","type":"quantitative"},"y":{"datum":0.9716,"type":"quantitative","axis":null},"text":{"field":"sub"}}}
  ]},
  {"layer":[
   {"data":{"values":[{}]},"mark":{"type":"rule","color":"#a6a6a6","strokeWidth":1.3},"encoding":{"y":{"datum":0,"type":"quantitative","scale":{"domain":[-0.7355,0.1263],"nice":false,"zero":false},"axis":null}}},
   {"data":{"name":"traces"},"transform":[{"filter":"datum.speed==='NORMAL' && datum.sig==='yCOP'"}],"mark":{"type":"line"},"encoding":{"x":{"field":"t","type":"quantitative","axis":{"title":"Time (s)","labelExpr":"(datum.value < 0 ? '-' : '') + format(abs(datum.value), '~g')"}},"y":{"field":"v","type":"quantitative","axis":null}}}
  ]},
  {"layer":[
   {"data":{"values":[{}]},"mark":{"type":"rule","color":"#a6a6a6","strokeWidth":1.3},"encoding":{"y":{"datum":0,"type":"quantitative","scale":{"domain":[-1.0208,0.7821],"nice":false,"zero":false},"axis":null}}},
   {"data":{"name":"traces"},"transform":[{"filter":"datum.speed==='NORMAL' && datum.sig==='yVel'"}],"mark":{"type":"line"},"encoding":{"x":{"field":"t","type":"quantitative","axis":{"title":"Time (s)","labelExpr":"(datum.value < 0 ? '-' : '') + format(abs(datum.value), '~g')"}},"y":{"field":"v","type":"quantitative","axis":null}}}
  ]},
  {"layer":[
   {"data":{"values":[{}]},"mark":{"type":"rule","color":"#a6a6a6","strokeWidth":1.3},"encoding":{"y":{"datum":0,"type":"quantitative","scale":{"domain":[-0.214,0.3996],"nice":false,"zero":false},"axis":null}}},
   {"data":{"name":"traces"},"transform":[{"filter":"datum.speed==='NORMAL' && datum.sig==='yCOM'"}],"mark":{"type":"line"},"encoding":{"x":{"field":"t","type":"quantitative","axis":{"title":"Time (s)","labelExpr":"(datum.value < 0 ? '-' : '') + format(abs(datum.value), '~g')"}},"y":{"field":"v","type":"quantitative","axis":null}}}
  ]},
  {"layer":[
   {"data":{"name":"traces"},"transform":[{"filter":"datum.speed==='NORMAL' && datum.sig==='xVel'"}],"mark":{"type":"line"},"encoding":{"x":{"field":"t","type":"quantitative","axis":{"title":"Time (s)","labelExpr":"(datum.value < 0 ? '-' : '') + format(abs(datum.value), '~g')"}},"y":{"field":"v","type":"quantitative","scale":{"domain":[-0.0207,6.9711],"nice":false,"zero":false},"axis":null}}}
  ]}
 ]},
{"width":293.7,"height":846,"title":{"text":"FAST","dx":3},
 "resolve":{"scale":{"y":"independent"}},
 "layer":[
  {"layer":[
   {"data":{"name":"events"},"transform":[{"filter":"datum.speed==='FAST' && (datum.event==='t0' || datum.event==='HC')"}],"mark":{"type":"rule","color":"black","strokeWidth":1.2,"strokeDash":[4,3]},"encoding":{"x":{"field":"t","type":"quantitative","scale":{"domain":[-0.2,1.1365],"nice":false,"zero":false}},"y":{"datum":0.9657,"type":"quantitative","scale":{"domain":[0,1],"nice":false,"zero":false},"axis":null},"y2":{"datum":0}}},
   {"data":{"name":"events"},"transform":[{"filter":"datum.speed==='FAST' && (datum.event==='HO' || datum.event==='FO')"}],"mark":{"type":"rule","color":"black","strokeWidth":1.2,"strokeDash":[4,3]},"encoding":{"x":{"field":"t","type":"quantitative"},"y":{"datum":0.944,"type":"quantitative","axis":null},"y2":{"datum":0}}},
   {"data":{"name":"connectors"},"transform":[{"filter":"datum.speed==='FAST'"}],"mark":{"type":"rule","color":"black","strokeWidth":1.2,"strokeDash":[4,3]},"encoding":{"x":{"field":"t_label","type":"quantitative"},"x2":{"field":"t_event"},"y":{"datum":0.9657,"type":"quantitative","axis":null},"y2":{"datum":0.944}}},
   {"data":{"name":"eventLabels"},"transform":[{"filter":"datum.speed==='FAST' && datum.sub===''"}],"mark":{"type":"text","font":"Liberation Sans","fontSize":20,"align":"center","baseline":"alphabetic","color":"black"},"encoding":{"x":{"field":"t","type":"quantitative"},"y":{"datum":0.9716,"type":"quantitative","axis":null},"text":{"field":"label"}}},
   {"data":{"name":"eventLabels"},"transform":[{"filter":"datum.speed==='FAST' && datum.sub!==''"}],"mark":{"type":"text","font":"Liberation Sans","fontSize":20,"align":"right","dx":1,"baseline":"alphabetic","color":"black"},"encoding":{"x":{"field":"t","type":"quantitative"},"y":{"datum":0.9716,"type":"quantitative","axis":null},"text":{"field":"label"}}},
   {"data":{"name":"eventLabels"},"transform":[{"filter":"datum.speed==='FAST' && datum.sub!==''"}],"mark":{"type":"text","font":"Liberation Sans","fontSize":13,"align":"left","dx":1,"dy":4,"baseline":"alphabetic","color":"black"},"encoding":{"x":{"field":"t","type":"quantitative"},"y":{"datum":0.9716,"type":"quantitative","axis":null},"text":{"field":"sub"}}}
  ]},
  {"layer":[
   {"data":{"values":[{}]},"mark":{"type":"rule","color":"#a6a6a6","strokeWidth":1.3},"encoding":{"y":{"datum":0,"type":"quantitative","scale":{"domain":[-0.7355,0.1263],"nice":false,"zero":false}}}},
   {"data":{"values":[{}]},"mark":{"type":"rule","color":"black","strokeWidth":1.3},"encoding":{"x":{"datum":1.232,"type":"quantitative"},"y":{"datum":-0.12,"type":"quantitative"},"y2":{"datum":0.06}}},
   {"data":{"name":"traces"},"transform":[{"filter":"datum.speed==='FAST' && datum.sig==='yCOP'"}],"mark":{"type":"line"},"encoding":{"x":{"field":"t","type":"quantitative","axis":{"title":"Time (s)","labelExpr":"(datum.value < 0 ? '-' : '') + format(abs(datum.value), '~g')"}},"y":{"field":"v","type":"quantitative","axis":{"orient":"right","offset":21,"values":[0.06,0.04,0.02,0,-0.02,-0.04,-0.06,-0.08,-0.1,-0.12],"domain":false,"grid":false,"ticks":true,"tickSize":9,"tickColor":"black","tickWidth":1.3,"labelFont":"Lato","labelFontSize":15,"labelColor":"black","labelPadding":12,"labelExpr":"(datum.value < 0 ? '-' : '') + format(abs(datum.value), '~g')","title":"(m)","titleFont":"Lato","titleFontSize":18,"titleFontWeight":"normal","titleColor":"black","titleAngle":90,"titleX":93,"titleY":156,"titleAlign":"center","titleBaseline":"middle"}}}}
  ]},
  {"layer":[
   {"data":{"values":[{}]},"mark":{"type":"rule","color":"#a6a6a6","strokeWidth":1.3},"encoding":{"y":{"datum":0,"type":"quantitative","scale":{"domain":[-1.0208,0.7821],"nice":false,"zero":false}}}},
   {"data":{"values":[{}]},"mark":{"type":"rule","color":"black","strokeWidth":1.3},"encoding":{"x":{"datum":1.232,"type":"quantitative"},"y":{"datum":-0.2,"type":"quantitative"},"y2":{"datum":0.2}}},
   {"data":{"name":"traces"},"transform":[{"filter":"datum.speed==='FAST' && datum.sig==='yVel'"}],"mark":{"type":"line"},"encoding":{"x":{"field":"t","type":"quantitative","axis":{"title":"Time (s)","labelExpr":"(datum.value < 0 ? '-' : '') + format(abs(datum.value), '~g')"}},"y":{"field":"v","type":"quantitative","axis":{"orient":"right","offset":21,"values":[0.2,0.1,0,-0.1,-0.2],"domain":false,"grid":false,"ticks":true,"tickSize":9,"tickColor":"black","tickWidth":1.3,"labelFont":"Lato","labelFontSize":15,"labelColor":"black","labelPadding":12,"labelExpr":"(datum.value < 0 ? '-' : '') + format(abs(datum.value), '~g')","title":"(m/s)","titleFont":"Lato","titleFontSize":18,"titleFontWeight":"normal","titleColor":"black","titleAngle":90,"titleX":93,"titleY":362,"titleAlign":"center","titleBaseline":"middle"}}}}
  ]},
  {"layer":[
   {"data":{"values":[{}]},"mark":{"type":"rule","color":"#a6a6a6","strokeWidth":1.3},"encoding":{"y":{"datum":0,"type":"quantitative","scale":{"domain":[-0.214,0.3996],"nice":false,"zero":false}}}},
   {"data":{"values":[{}]},"mark":{"type":"rule","color":"black","strokeWidth":1.3},"encoding":{"x":{"datum":1.232,"type":"quantitative"},"y":{"datum":-0.06,"type":"quantitative"},"y2":{"datum":0.02}}},
   {"data":{"name":"traces"},"transform":[{"filter":"datum.speed==='FAST' && datum.sig==='yCOM'"}],"mark":{"type":"line"},"encoding":{"x":{"field":"t","type":"quantitative","axis":{"title":"Time (s)","labelExpr":"(datum.value < 0 ? '-' : '') + format(abs(datum.value), '~g')"}},"y":{"field":"v","type":"quantitative","axis":{"orient":"right","offset":21,"values":[0.02,0,-0.02,-0.04,-0.06],"domain":false,"grid":false,"ticks":true,"tickSize":9,"tickColor":"black","tickWidth":1.3,"labelFont":"Lato","labelFontSize":15,"labelColor":"black","labelPadding":12,"labelExpr":"(datum.value < 0 ? '-' : '') + format(abs(datum.value), '~g')","title":"(m)","titleFont":"Lato","titleFontSize":18,"titleFontWeight":"normal","titleColor":"black","titleAngle":90,"titleX":93,"titleY":578,"titleAlign":"center","titleBaseline":"middle"}}}}
  ]},
  {"layer":[
   {"data":{"values":[{}]},"mark":{"type":"rule","color":"black","strokeWidth":1.3},"encoding":{"x":{"datum":1.232,"type":"quantitative"},"y":{"datum":0,"type":"quantitative","scale":{"domain":[-0.0207,6.9711],"nice":false,"zero":false}},"y2":{"datum":1.4}}},
   {"data":{"name":"traces"},"transform":[{"filter":"datum.speed==='FAST' && datum.sig==='xVel'"}],"mark":{"type":"line"},"encoding":{"x":{"field":"t","type":"quantitative","axis":{"title":"Time (s)","labelExpr":"(datum.value < 0 ? '-' : '') + format(abs(datum.value), '~g')"}},"y":{"field":"v","type":"quantitative","axis":{"orient":"right","offset":21,"values":[1.4,1.2,1,0.8,0.6,0.4,0.2,0],"domain":false,"grid":false,"ticks":true,"tickSize":9,"tickColor":"black","tickWidth":1.3,"labelFont":"Lato","labelFontSize":15,"labelColor":"black","labelPadding":12,"labelExpr":"(datum.value < 0 ? '-' : '') + format(abs(datum.value), '~g')","title":"(m/s)","titleFont":"Lato","titleFontSize":18,"titleFontWeight":"normal","titleColor":"black","titleAngle":90,"titleX":93,"titleY":762,"titleAlign":"center","titleBaseline":"middle"}}}}
  ]}
 ]}
]
}
